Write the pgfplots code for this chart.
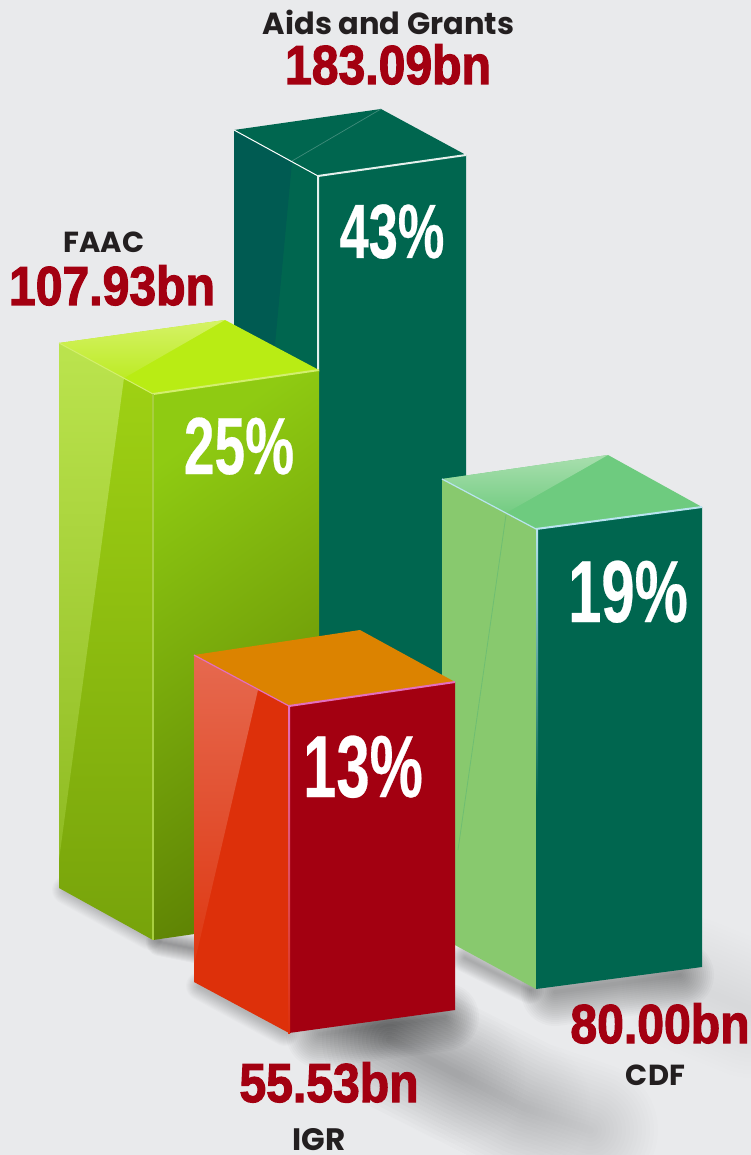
\documentclass[border=0pt]{standalone}
\usepackage{fontspec}
\usepackage{pgfplots}
\pgfplotsset{compat=1.18}
\setmainfont{Liberation Sans}
\newfontfamily\labfont{Poppins}
\newfontfamily\valfont[FakeStretch=0.875,FakeBold=2]{Liberation Sans Bold}
\newfontfamily\pctfont[FakeStretch=0.68,FakeBold=0.3]{Liberation Sans Bold}

\definecolor{bg}{HTML}{E9EAEC}
\definecolor{wine}{HTML}{A30011}
\definecolor{ink}{HTML}{231F20}
\definecolor{deepgreen}{HTML}{00664F}
\definecolor{deepshade}{HTML}{005B52}
\definecolor{leaf}{HTML}{88C96E}
\definecolor{leaftop}{HTML}{6ECB7F}
\definecolor{leafline}{HTML}{6FBE72}
\definecolor{leafhia}{HTML}{A8DFAE}
\definecolor{leafhib}{HTML}{74CC82}
\definecolor{iceedge}{HTML}{B9E4F0}
\definecolor{orangered}{HTML}{DD300A}
\definecolor{redhia}{HTML}{E6694F}
\definecolor{redhib}{HTML}{DE3812}
\definecolor{amber}{HTML}{DC8300}
\definecolor{pinkedge}{HTML}{E46FC0}
\definecolor{limesidea}{HTML}{A1D414}
\definecolor{limesideb}{HTML}{77A30B}
\definecolor{limehia}{HTML}{BBE44E}
\definecolor{limehib}{HTML}{8FBB22}
\definecolor{limefronta}{HTML}{8FCB12}
\definecolor{limefrontb}{HTML}{5F8404}
\definecolor{limetop}{HTML}{B9EC14}
\definecolor{limetopa}{HTML}{D5F266}
\definecolor{limetopb}{HTML}{BDEB26}
\definecolor{limeedge}{HTML}{D3EF6E}
\definecolor{limeedgeb}{HTML}{A8CF40}

% filled face of a box
\newcommand{\face}[2]{\addplot[draw=none,#1] coordinates {#2} -- cycle;}
% soft shadow: the same line stacked at growing widths
\newcommand{\soft}[3]{\expandafter\pgfplotsinvokeforeach\expandafter{#2}{%
  \addplot[draw=black,opacity=#3,line cap=round,line join=round,line width=##1pt] coordinates {#1};}}
\newcommand{\wideset}{8,16,24,32,40,48,56,64,72,80,88,96,104,112,120,128,136}
\newcommand{\midset}{4,8,12,16,20,24,28,32,36,40,44,48,52,56,60,64,68}
\newcommand{\thinset}{2,4,6,8,10,12,14,16,18,20,22,24,26,28}

\begin{document}
\begin{tikzpicture}
\begin{axis}[
  scale only axis,width=751pt,height=1155pt,
  xmin=0,xmax=751,ymin=0,ymax=1155,y dir=reverse,
  hide axis,clip mode=individual]

\face{fill=bg}{(0,0)(751,0)(751,1155)(0,1155)}

% floor shadows
\soft{(66,890)(150,936)}{\thinset}{0.014}
\soft{(160,942)(200,950)}{\thinset}{0.026}
\soft{(200,986)(285,1032)}{\thinset}{0.016}
\soft{(320,1034)(445,1017)}{\midset}{0.02}
\soft{(390,1040)(523,1107)(590,1130)}{\wideset}{0.008}
\soft{(390,1040)(523,1107)}{\wideset}{0.005}
\soft{(390,1040)(457,1075)}{\wideset}{0.005}
\soft{(465,958)(530,990)}{\thinset}{0.018}
\soft{(555,992)(680,975)}{\midset}{0.018}
\soft{(690,985)(751,1010)}{\wideset}{0.003}

% Aids and Grants
\face{fill=deepgreen}{(234,130)(318,176)(318,850)(234,850)}
\face{fill=deepshade}{(234,130)(292,162)(268,420)(234,420)}
\face{fill=deepgreen}{(318,176)(466,155)(466,850)(318,850)}
\face{fill=deepgreen}{(234,130)(381,109)(466,155)(318,176)}
\addplot[draw=deepgreen!75!white,line width=0.7pt] coordinates {(381,109)(292,161)};
\addplot[draw=white,line width=1pt] coordinates {(234,130)(318,176)};
\addplot[draw=white!90!deepgreen,line width=2pt] coordinates {(466,155)(318,176)(318,372)};

% FAAC
\face{top color=limesidea,bottom color=limesideb}{(59,343)(153,394)(153,940)(59,888)}
\face{top color=limehia,bottom color=limehib}{(59,343)(124,378)(59,860)}
\face{top color=limefronta,bottom color=limefrontb,shading angle=35}{(153,394)(319,370)(319,916)(153,940)}
\face{fill=limetop}{(59,343)(225,320)(319,370)(153,394)}
\face{top color=limetopa,bottom color=limetopb}{(59,343)(225,320)(124,378)}
\addplot[draw=limeedge,line width=1pt] coordinates {(59,343)(153,394)};
\addplot[draw=limeedge,line width=2pt] coordinates {(319,370)(153,394)};
\addplot[draw=limeedgeb,line width=1.5pt] coordinates {(153,394)(153,940)};

% CDF
\face{fill=leaf}{(442,479)(536,529)(536,989)(442,938)}
\addplot[draw=leafline,line width=0.8pt] coordinates {(506,515)(458,850)};
\face{fill=deepgreen}{(536,529)(702,507)(702,967)(536,989)}
\face{fill=leaftop}{(442,479)(608,455)(702,507)(536,529)}
\face{top color=leafhia,bottom color=leafhib}{(442,479)(608,455)(506,513)}
\addplot[draw=iceedge,line width=1.2pt] coordinates {(442,479)(536,529)};
\addplot[draw=iceedge,line width=2pt] coordinates {(702,507)(536,529)};
\face{top color=iceedge,bottom color=deepgreen}{(536,529)(538,529)(538,800)(536,800)}

% IGR
\face{fill=orangered}{(194,655)(289,706)(289,1033)(194,982)}
\face{top color=redhia,bottom color=redhib}{(194,655)(258,690)(194,965)}
\face{fill=wine}{(289,706)(455,682)(455,1010)(289,1033)}
\face{fill=amber}{(194,655)(360,630)(455,682)(289,706)}
\addplot[draw=pinkedge,line width=1.2pt] coordinates {(194,655)(289,706)};
\addplot[draw=pinkedge,line width=2pt] coordinates {(455,682)(289,706)};
\face{top color=pinkedge,middle color=pinkedge,bottom color=orangered}{(288,706)(290,706)(290,1033)(288,1033)}

% percentages
\node[anchor=base,text=white,inner sep=0pt] at (axis cs:392,258) {\pctfont\fontsize{77}{77}\selectfont 43\%};
\node[anchor=base,text=white,inner sep=0pt] at (axis cs:239,474) {\pctfont\fontsize{81}{81}\selectfont 25\%};
\node[anchor=base,text=white,inner sep=0pt] at (axis cs:628,622) {\pctfont\fontsize{88}{88}\selectfont 19\%};
\node[anchor=base,text=white,inner sep=0pt] at (axis cs:363,797) {\pctfont\fontsize{88}{88}\selectfont 13\%};

% amounts
\node[anchor=base,text=wine,inner sep=0pt] at (axis cs:388,84) {\valfont\fontsize{55}{55}\selectfont 183.09bn};
\node[anchor=base,text=wine,inner sep=0pt] at (axis cs:112,305) {\valfont\fontsize{55}{55}\selectfont 107.93bn};
\node[anchor=base,text=wine,inner sep=0pt] at (axis cs:660,1043) {\valfont\fontsize{55}{55}\selectfont 80.00bn};
\node[anchor=base,text=wine,inner sep=0pt] at (axis cs:329,1102) {\valfont\fontsize{55}{55}\selectfont 55.53bn};

% names
\node[anchor=base,text=ink,inner sep=0pt] at (axis cs:388.5,35) {\labfont\fontsize{30.5}{30.5}\selectfont\bfseries Aids and Grants};
\node[anchor=base,text=ink,inner sep=0pt] at (axis cs:104,253) {\labfont\fontsize{29}{29}\selectfont\bfseries FAAC};
\node[anchor=base,text=ink,inner sep=0pt] at (axis cs:655.5,1085) {\labfont\fontsize{29}{29}\selectfont\bfseries CDF};
\node[anchor=base,text=ink,inner sep=0pt] at (axis cs:319,1150) {\labfont\fontsize{31}{31}\selectfont\bfseries IGR};
\end{axis}
\end{tikzpicture}
\end{document}
